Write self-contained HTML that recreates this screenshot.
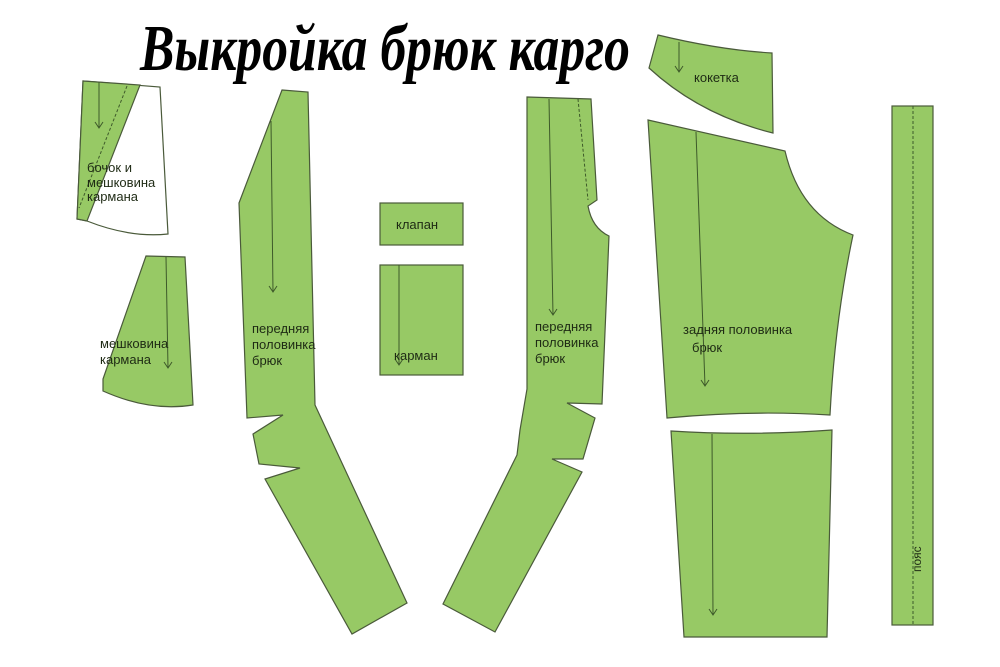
<!DOCTYPE html>
<html><head><meta charset="utf-8"><style>
html,body{margin:0;padding:0;background:#fff;}
svg{display:block}
text{font-family:"Liberation Sans",sans-serif;fill:#1e2a14;}
</style></head><body>
<svg width="1000" height="667" viewBox="0 0 1000 667" xmlns="http://www.w3.org/2000/svg">
<g stroke="#4a5a3a" stroke-width="1.2" fill="#97c965">
<!-- бочок -->
<path d="M83,81 L160,87 L168,234 Q130,238 87,221 L77,219 Z" fill="#fff"/>
<path d="M83,81 L140,85 L87,221 L77,219 Z"/>
<!-- мешковина -->
<path d="M146,256 L185,257 L193,405 Q150,412 103,391 L103,379 Z"/>
<!-- front left -->
<path d="M282,90 L308,92 L315,405 Q345,470 407,603 L352,634 L265,479 L300,468 L259,464 L253,434 L283,415 L247,418 L239,203 Z"/>
<!-- front right -->
<path d="M527,97 L591,99 L597,200 L588,206 Q592,228 609,236 L602,404 L567,403 L595,418 L583,459 L552,459 L582,472 L495,632 L443,604 L517,455 L520,430 L527,389 Z"/>
<!-- back -->
<path d="M648,120 L785,151 Q800,215 853,235 Q835,320 830,415 Q750,410 667,418 Z"/>
<path d="M671,431 Q750,436 832,430 L827,637 L684,637 Z"/>
<!-- кокетка -->
<path d="M658,35 Q720,50 772,53 L773,133 Q700,115 649,68 Z"/>
<!-- клапан / карман -->
<rect x="380" y="203" width="83" height="42"/>
<rect x="380" y="265" width="83" height="110"/>
<!-- пояс -->
<rect x="892" y="106" width="41" height="519"/>
</g>
<g stroke="#3e5a2a" stroke-width="1" fill="none">
<path d="M99,82 L99,128 M95,122 L99,128 L103,122"/>
<path d="M127,86 L79,208" stroke-dasharray="3,2"/>
<path d="M166,257 L168,368 M164,362 L168,368 L172,362"/>
<path d="M271,121 L273,292 M269,286 L273,292 L277,286"/>
<path d="M549,99 L553,315 M549,309 L553,315 L557,309"/>
<path d="M578,99 L588,200" stroke-dasharray="3,2"/>
<path d="M696,132 L705,386 M701,380 L705,386 L709,380"/>
<path d="M712,434 L713,615 M709,609 L713,615 L717,609"/>
<path d="M679,42 L679,72 M675,66 L679,72 L683,66"/>
<path d="M399,265 L399,365 M395,359 L399,365 L403,359"/>
<path d="M913,106 L913,625" stroke-dasharray="3,2"/>
</g>
<g font-size="13">
<text x="87" y="172">бочок и</text>
<text x="87" y="187">мешковина</text>
<text x="87" y="201">кармана</text>
<text x="100" y="348">мешковина</text>
<text x="100" y="364">кармана</text>
<text x="252" y="333">передняя</text>
<text x="252" y="349">половинка</text>
<text x="252" y="365">брюк</text>
<text x="535" y="331">передняя</text>
<text x="535" y="347">половинка</text>
<text x="535" y="363">брюк</text>
<text x="683" y="334">задняя половинка</text>
<text x="692" y="352">брюк</text>
<text x="694" y="82">кокетка</text>
<text x="396" y="229">клапан</text>
<text x="394" y="360">карман</text>
<text transform="translate(921,572) rotate(-90)" font-size="12">пояс</text>
</g>
<text x="140" y="70" font-size="66" font-style="italic" font-weight="bold" textLength="490" lengthAdjust="spacingAndGlyphs" style="fill:#000;font-family:'Liberation Serif',serif">Выкройка брюк карго</text>
</svg>
</body></html>
